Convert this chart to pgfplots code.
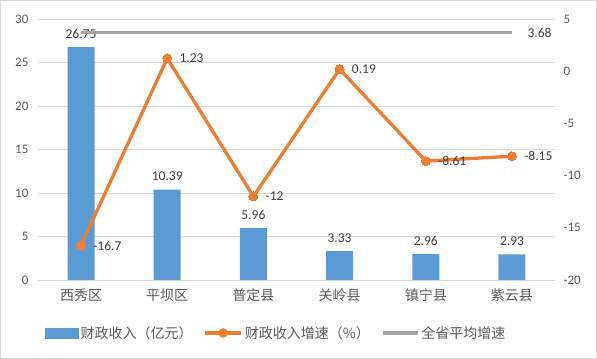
\documentclass[border=0pt]{standalone}
\usepackage{pgfplots}
\pgfplotsset{compat=1.18}
\usepackage{fontspec}
\setmainfont{Carlito}
\newfontfamily\cjk{Noto Sans CJK SC}
\definecolor{barblue}{HTML}{5B9BD5}
\definecolor{orng}{HTML}{ED7D31}
\definecolor{gry}{HTML}{A5A5A5}
\definecolor{gridc}{HTML}{D9D9D9}
\definecolor{txt}{HTML}{595959}
\definecolor{lbl}{HTML}{404040}
\begin{document}
\begin{tikzpicture}[x=1bp,y=1bp]
\draw[gridc, line width=0.8bp] (0.5,0.5) rectangle (596.5,358.5);
\begin{axis}[at={(38bp,79bp)}, anchor=south west, scale only axis,
  width=517bp, height=261bp,
  xmin=-0.5, xmax=5.5, ymin=0, ymax=30, ytick={0,5,...,30},
  xtick={0,...,5},
  xticklabels={西秀区,平坝区,普定县,关岭县,镇宁县,紫云县},
  axis line style={draw=none}, major tick length=0pt,
  ymajorgrids, grid style={gridc, line width=0.8bp},
  /pgf/number format/assume math mode=true,
  yticklabel style={font=\fontsize{13bp}{15bp}\selectfont, text=txt, xshift=-6bp},
  xticklabel style={font=\cjk\fontsize{14bp}{16bp}\selectfont, text=txt, yshift=-5bp},
  ybar, bar width=27bp,
  nodes near coords, point meta=explicit symbolic,
  every node near coord/.append style={font=\fontsize{13.5bp}{15bp}\selectfont, text=lbl, yshift=5bp},
  clip=false]
\addplot[fill=barblue, draw=none] coordinates {(0,26.75)[26.75] (1,10.39)[10.39] (2,5.96)[5.96] (3,3.33)[3.33] (4,2.96)[2.96] (5,2.93)[2.93]};
\end{axis}
\begin{axis}[at={(38bp,79bp)}, anchor=south west, scale only axis,
  width=517bp, height=261bp,
  xmin=-0.5, xmax=5.5, ymin=-20, ymax=5, ytick={-20,-15,...,5},
  axis y line*=right, axis x line=none,
  axis line style={draw=none}, major tick length=0pt,
  /pgf/number format/assume math mode=true,
  yticklabel style={font=\fontsize{13bp}{15bp}\selectfont, text=txt, xshift=5bp},
  point meta=explicit symbolic,
  clip=false,
  legend style={at={(0.0135,-0.203)}, anchor=west, draw=none, fill=none,
    font=\cjk\fontsize{14bp}{16bp}\selectfont, text=txt,
    legend columns=3, /tikz/every even column/.append style={column sep=9bp},
    inner sep=0pt, cells={anchor=west}},
  legend entries={财政收入（亿元）,财政收入增速（\%）,全省平均增速}]
\addlegendimage{legend image code/.code={\fill[barblue] (0bp,-5bp) rectangle (33bp,5bp);}}
\addlegendimage{legend image code/.code={\draw[orng, line width=3.3bp] (0bp,0bp) -- (36bp,0bp); \fill[orng] (18bp,0bp) circle (4.5bp);}}
\addlegendimage{legend image code/.code={\draw[gry, line width=3.5bp] (0bp,0bp) -- (35bp,0bp);}}
\addplot[gry, line width=3.5bp, no marks] coordinates {(0,3.68) (1,3.68) (2,3.68) (3,3.68) (4,3.68) (5,3.68)};
\addplot[gry, draw=none, no marks, nodes near coords,
  every node near coord/.append style={font=\fontsize{13.5bp}{15bp}\selectfont, text=lbl, anchor=west, xshift=12bp}]
  coordinates {(5,3.68)[3.68]};
\addplot[orng, line width=3.3bp, mark=*, mark size=4.5bp, mark options={fill=orng, draw=orng, line width=0pt},
  nodes near coords,
  every node near coord/.append style={font=\fontsize{13.5bp}{15bp}\selectfont, text=lbl, anchor=west, xshift=9bp}]
  coordinates {(0,-16.7)[-16.7] (1,1.23)[1.23] (2,-12)[-12] (3,0.19)[0.19] (4,-8.61)[-8.61] (5,-8.15)[-8.15]};
\end{axis}
\end{tikzpicture}
\end{document}
